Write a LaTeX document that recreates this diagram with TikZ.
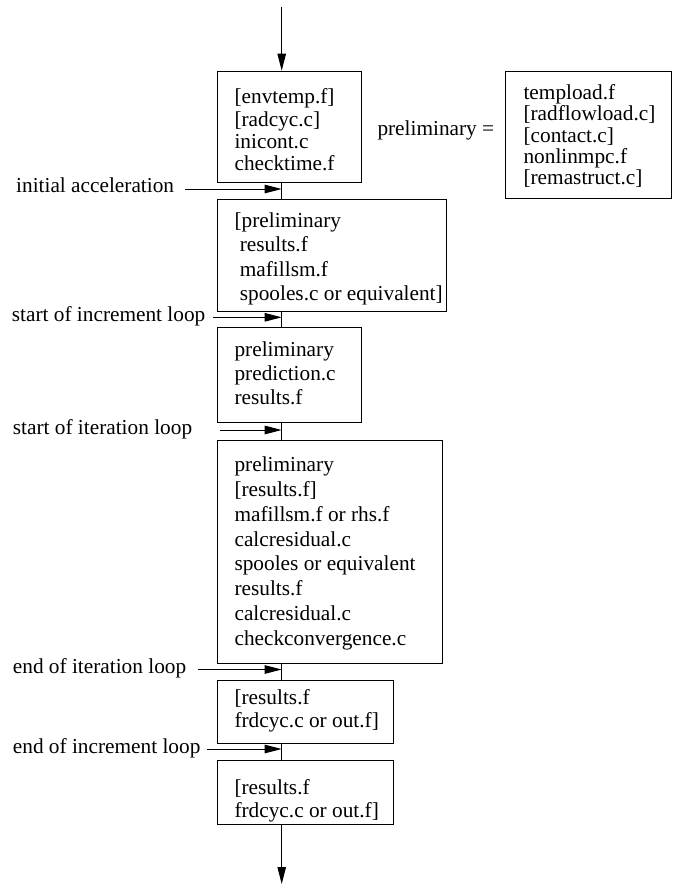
\documentclass[tikz,border=0pt]{standalone}
\usepackage{fontspec}
\setmainfont{Liberation Serif}
\usetikzlibrary{arrows.meta}

% A framed list of routine names: width, height, left pad,
% depth of the first baseline below the top, line skip, lines.
\newcommand{\routinelist}[6]{%
  \parbox[c][#2][t]{#1}{\leftskip=#3\relax\rightskip=-60pt\relax
    \baselineskip=#5\relax\lineskiplimit=-30pt\relax
    \vspace*{\dimexpr#4-16pt\relax}\rule{0pt}{16pt}#6\par}}
% indent by one word space inside a list
\newcommand{\ind}{\hspace*{0.25em}}

\begin{document}
\begin{tikzpicture}[x=1pt,y=-1pt,
    every node/.style={font=\fontsize{21.3}{24}\selectfont},
    routines/.style={draw, line width=1.1pt, inner sep=0pt, anchor=north west},
    caption/.style={inner sep=0pt, anchor=base west},
    flow/.style={line width=1pt, -{Triangle[length=17pt,width=8.5pt]}},
    trunk/.style={line width=1pt}]
  \useasboundingbox (0,0) rectangle (673,886);

  % main chain of routine groups
  \node[routines] (b1) at (217,70.7) {\routinelist{144pt}{111.1pt}{17pt}{32.6pt}{22.2pt}{%
    {[}envtemp.f{]}\\ {[}radcyc.c{]}\\ inicont.c\\ checktime.f}};
  \node[routines] (b2) at (217,199.3) {\routinelist{229pt}{111.2pt}{17pt}{27.7pt}{24.4pt}{%
    {[}preliminary\\ \ind results.f\\ \ind mafillsm.f\\ \ind spooles.c or equivalent{]}}};
  \node[routines] (b3) at (217,327) {\routinelist{144pt}{95pt}{17pt}{28.5pt}{24.2pt}{%
    preliminary\\ prediction.c\\ results.f}};
  \node[routines] (b4) at (217,440) {\routinelist{224.7pt}{222.5pt}{17pt}{31.3pt}{24.77pt}{%
    preliminary\\ {[}results.f{]}\\ mafillsm.f or rhs.f\\ calcresidual.c\\
    spooles or equivalent\\ results.f\\ calcresidual.c\\ checkconvergence.c}};
  \node[routines] (b5) at (217,680) {\routinelist{176.3pt}{63.3pt}{17pt}{24pt}{23.3pt}{%
    {[}results.f\\ frdcyc.c or out.f{]}}};
  \node[routines] (b6) at (217,759.7) {\routinelist{176.3pt}{64.3pt}{17pt}{34.3pt}{23.3pt}{%
    {[}results.f\\ frdcyc.c or out.f{]}}};

  % definition of "preliminary"
  \node[caption] (prelim) at (377.3,135) {preliminary =};
  \node[routines] (pdef) at (504.5,70.7) {\routinelist{166.5pt}{127.3pt}{18.5pt}{28.3pt}{21.25pt}{%
    tempload.f\\ {[}radflowload.c{]}\\ {[}contact.c{]}\\ nonlinmpc.f\\ {[}remastruct.c{]}}};

  % entry points along the chain
  \node[caption] (lia)  at (16,192.3)   {initial acceleration};
  \node[caption] (lsil) at (11.7,321.5) {start of increment loop};
  \node[caption] (lstl) at (12.7,434.3) {start of iteration loop};
  \node[caption] (letl) at (12.7,673.7) {end of iteration loop};
  \node[caption] (lel)  at (12.7,753.2) {end of increment loop};

  \coordinate (spine) at (281.7,0);
  \coordinate (in)  at (281.7,6.7);
  \coordinate (out) at (281.7,884);
  \coordinate (ia)  at (185,189);
  \coordinate (sil) at (213.3,317.3);
  \coordinate (stl) at (220,430);
  \coordinate (etl) at (198.3,669.5);
  \coordinate (el)  at (206.7,749);

  % trunk
  \draw[flow] (in) -- (b1.north -| spine);
  \draw[trunk] (b1.south -| spine) -- (b2.north -| spine);
  \draw[trunk] (b2.south -| spine) -- (b3.north -| spine);
  \draw[trunk] (b3.south -| spine) -- (b4.north -| spine);
  \draw[trunk] (b4.south -| spine) -- (b5.north -| spine);
  \draw[trunk] (b5.south -| spine) -- (b6.north -| spine);
  \draw[flow] (b6.south -| spine) -- (out);

  % side entries
  \draw[flow] (ia)  -- (ia -| spine);
  \draw[flow] (sil) -- (sil -| spine);
  \draw[flow] (stl) -- (stl -| spine);
  \draw[flow] (etl) -- (etl -| spine);
  \draw[flow] (el)  -- (el -| spine);
\end{tikzpicture}
\end{document}
